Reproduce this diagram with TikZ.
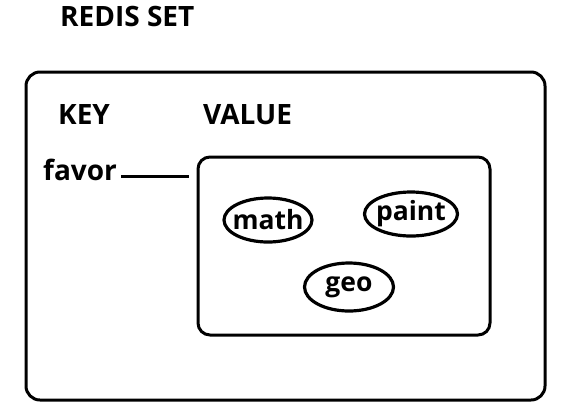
\documentclass[tikz,border=0pt]{standalone}
\usepackage{fontspec}
\setmainfont{Open Sans}
\usetikzlibrary{shapes.geometric}
\begin{document}
\begin{tikzpicture}[x=1pt,y=-1pt,
  txt/.style={font=\fontsize{28}{30}\selectfont\bfseries},
  lbl/.style={txt,inner sep=0pt,anchor=base west},
  box/.style={draw,line width=3pt,rounded corners=14pt},
  oval/.style={draw,ellipse,line width=3.2pt,font=\fontsize{26.5}{28}\selectfont\bfseries,inner sep=0pt}]
\useasboundingbox (0,0) rectangle (561,413);
\node[lbl] (title) at (60,26) {REDIS SET};
\draw[box] (26,72) rectangle (545,400);
\node[lbl] (key) at (58,124) {KEY};
\node[lbl] (value) at (203,124) {VALUE};
\node[lbl] (favor) at (43,180) {favor};
\draw[box,rounded corners=12pt] (198,157) rectangle (490,335);
\coordinate (inl) at (189,176);
\draw[line width=3pt] (121,176) -- (inl);
\node[oval,minimum width=88pt,minimum height=44pt] (math) at (268,220) {\makebox[0pt]{math}};
\node[oval,minimum width=93pt,minimum height=44pt] (paint) at (411,214) {\makebox[0pt]{paint}};
\node[oval,minimum width=89pt,minimum height=48pt] (geo) at (349,287) {\makebox[0pt]{geo}};
\end{tikzpicture}
\end{document}
